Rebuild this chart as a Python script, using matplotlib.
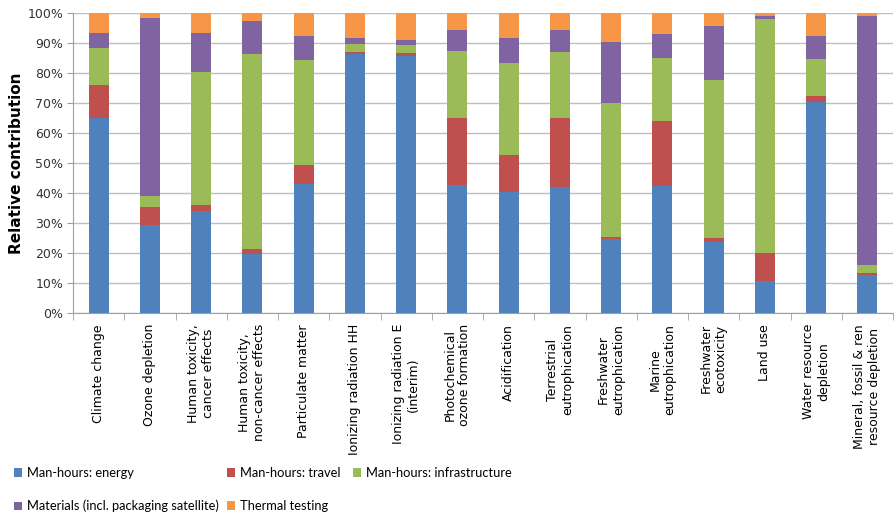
import matplotlib
matplotlib.use("Agg")
import matplotlib.pyplot as plt
import numpy as np
from matplotlib.patches import Patch

categories = [
    "Climate change", "Ozone depletion", "Human toxicity,\ncancer effects",
    "Human toxicity,\nnon-cancer effects", "Particulate matter",
    "Ionizing radiation HH", "Ionizing radiation E\n(interim)",
    "Photochemical\nozone formation", "Acidification",
    "Terrestrial\neutrophication", "Freshwater\neutrophication",
    "Marine\neutrophication", "Freshwater\necotoxicity", "Land use",
    "Water resource\ndepletion", "Mineral, fossil & ren\nresource depletion",
]
energy = [65.1, 29.2, 33.9, 19.7, 43.1, 86.5, 85.8, 42.7, 40.2, 41.9, 24.6, 42.3, 23.7, 10.6, 70.3, 12.6]
travel = [11.0, 6.1, 2.2, 1.6, 6.2, 0.6, 0.9, 22.4, 12.6, 23.1, 0.6, 21.7, 1.2, 9.4, 2.0, 0.7]
infra = [12.4, 3.7, 44.1, 65.2, 34.9, 2.6, 2.5, 22.1, 30.4, 22.1, 44.8, 21.1, 52.8, 78.0, 12.3, 2.6]
materials = [5.0, 59.3, 13.0, 10.7, 8.0, 1.9, 1.9, 7.1, 8.6, 7.2, 20.5, 8.0, 18.0, 0.9, 7.6, 83.0]
thermal = [6.5, 1.7, 6.8, 2.8, 7.8, 8.4, 8.9, 5.7, 8.2, 5.7, 9.5, 6.9, 4.3, 1.1, 7.8, 1.1]

series_names = ["Man-hours: energy", "Man-hours: travel", "Man-hours: infrastructure",
                "Materials (incl. packaging satellite)", "Thermal testing"]
series = [energy, travel, infra, materials, thermal]
colors = ["#4F81BD", "#C0504D", "#9BBB59", "#8064A2", "#F79646"]
yticks = [0, 10, 20, 30, 40, 50, 60, 70, 80, 90, 100]

W, H = 894, 517
fig = plt.figure(figsize=(W / 100, H / 100), dpi=100)
ax = fig.add_axes([73 / W, 1 - 313 / H, (893 - 73) / W, 300 / H])

x = np.arange(len(categories))
bottom = np.zeros(len(categories))
for vals, c, name in zip(series, colors, series_names):
    v = np.array(vals)
    ax.bar(x, v, bottom=bottom, width=0.39, color=c, label=name, zorder=3)
    bottom += v

ax.set_xlim(-0.5, len(categories) - 0.5)
ax.set_ylim(0, 100)
ax.set_yticks(yticks)
ax.set_yticklabels([f"{t}%" for t in yticks], fontsize=9, color="#333333")
ax.grid(axis="y", color="#BFBFBF", linewidth=1, zorder=0)
ax.set_xticks(x)
ax.set_xticklabels(categories, rotation=90, fontsize=9, ha="center", va="top",
                   multialignment="center")
ax.tick_params(axis="x", length=0, pad=8)
ax.set_xticks(np.arange(-0.5, len(categories), 1), minor=True)
ax.tick_params(axis="x", which="minor", length=5, color="#A0A0A0", direction="out")
ax.tick_params(axis="y", length=4, color="#A0A0A0", direction="out", pad=3)
for s in ["top", "right"]:
    ax.spines[s].set_visible(False)
ax.spines["left"].set_color("#A0A0A0")
ax.spines["bottom"].set_color("#A0A0A0")

fig.text(17 / W, 1 - 163 / H, "Relative contribution", rotation=90, ha="center",
         va="center", fontsize=11, fontweight="bold")

leg_family = "Lato"
size = 9.25
renderer = fig.canvas.get_renderer()
t = fig.text(0, 0, series_names[3], family=leg_family, fontsize=size)
mat_w = t.get_window_extent(renderer).width
t.remove()
col1 = 14
col2 = max(183, col1 + 13 + mat_w + 8)
col3 = 353

handles = [Patch(facecolor=c, edgecolor="none") for c in colors]
# (series index, x px of marker, y px of row centre)
places = [(0, col1, 473), (1, col2, 473), (2, col3, 473), (3, col1, 506), (4, col2, 506)]
for i, px, py in places:
    fig.legend([handles[i]], [series_names[i]], loc="center left",
               bbox_to_anchor=(px / W, 1 - py / H), frameon=False,
               prop={"family": leg_family, "size": size},
               handlelength=0.6, handleheight=0.6, handletextpad=0.45,
               borderaxespad=0, borderpad=0)

fig.savefig("out.png", dpi=100)
